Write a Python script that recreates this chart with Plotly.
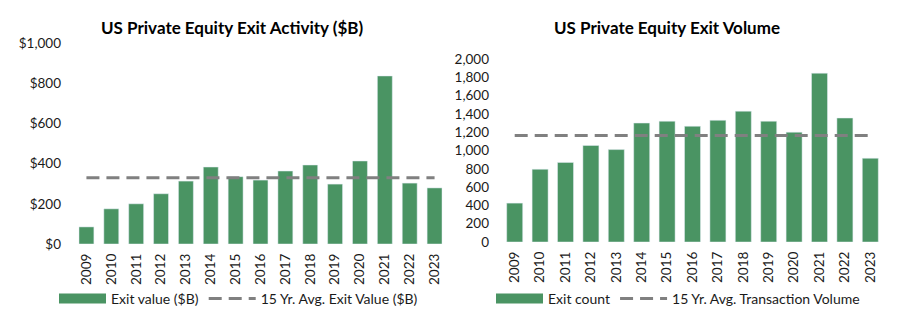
import plotly.graph_objects as go

years = [str(y) for y in range(2009, 2024)]
exit_value = [85, 175, 200, 250, 313, 383, 335, 318, 363, 393, 298, 413, 836, 303, 279]
avg_value = 330
exit_count = [425, 795, 870, 1055, 1010, 1300, 1320, 1265, 1330, 1430, 1320, 1200, 1845, 1355, 915]
avg_count = 1163

left_title = "US Private Equity Exit Activity ($B)"
right_title = "US Private Equity Exit Volume"

GREEN = "#4A9463"
GREY = "#808080"
TXT = "#1a1a1a"
FONT = "Lato"
DASH = "13px,7px"

fig = go.Figure()

# Left chart
fig.add_trace(go.Bar(x=years, y=exit_value, marker_color=GREEN, showlegend=False,
                     xaxis="x", yaxis="y", width=0.6))
fig.add_trace(go.Scatter(x=years, y=[avg_value] * len(years), mode="lines",
                         line=dict(color=GREY, width=3, dash=DASH),
                         showlegend=False, xaxis="x", yaxis="y"))
fig.add_trace(go.Scatter(x=[None], y=[None], mode="lines", name="Exit value ($B)",
                         line=dict(color=GREEN, width=10), legend="legend", xaxis="x", yaxis="y"))
fig.add_trace(go.Scatter(x=[None], y=[None], mode="lines", name="15 Yr. Avg. Exit Value ($B)",
                         line=dict(color=GREY, width=3, dash=DASH), legend="legend",
                         xaxis="x", yaxis="y"))

# Right chart
fig.add_trace(go.Bar(x=years, y=exit_count, marker_color=GREEN, showlegend=False,
                     xaxis="x2", yaxis="y2", width=0.63))
fig.add_trace(go.Scatter(x=years, y=[avg_count] * len(years), mode="lines",
                         line=dict(color=GREY, width=3, dash=DASH),
                         showlegend=False, xaxis="x2", yaxis="y2"))
fig.add_trace(go.Scatter(x=[None], y=[None], mode="lines", name="Exit count",
                         line=dict(color=GREEN, width=10), legend="legend2", xaxis="x2", yaxis="y2"))
fig.add_trace(go.Scatter(x=[None], y=[None], mode="lines", name="15 Yr. Avg. Transaction Volume",
                         line=dict(color=GREY, width=3, dash=DASH), legend="legend2",
                         xaxis="x2", yaxis="y2"))

W, H = 915, 334
tickfont = dict(family=FONT, size=13.5, color=TXT)
legfont = dict(family=FONT, size=14, color=TXT)

fig.update_layout(
    width=W, height=H, margin=dict(l=0, r=0, t=0, b=0, autoexpand=False),
    paper_bgcolor="white", plot_bgcolor="white",
    font=dict(family=FONT, size=13, color=TXT),
    xaxis=dict(domain=[74 / W, 447 / W], anchor="y", tickangle=-90, tickfont=tickfont,
               showgrid=False, showline=False, ticks="", ticklabelstandoff=6,
               automargin=False),
    yaxis=dict(domain=[90 / H, 291 / H], anchor="x", range=[0, 1000], dtick=200,
               tickprefix="$", tickformat=",d", tickfont=tickfont, showgrid=False,
               zeroline=False, ticks="", ticklabelstandoff=12, automargin=False),
    xaxis2=dict(domain=[502 / W, 883 / W], anchor="y2", tickangle=-90, tickfont=tickfont,
                showgrid=False, showline=False, ticks="", ticklabelstandoff=6,
                automargin=False),
    yaxis2=dict(domain=[92 / H, 275 / H], anchor="x2", range=[0, 2000], dtick=200,
                tickformat=",d", tickfont=tickfont, showgrid=False, zeroline=False,
                ticks="", ticklabelstandoff=12, automargin=False),
    legend=dict(orientation="h", x=54 / W, y=(H - 299) / H, xanchor="left", yanchor="middle",
                font=legfont, bgcolor="rgba(0,0,0,0)", itemwidth=47),
    legend2=dict(orientation="h", x=491 / W, y=(H - 299) / H, xanchor="left", yanchor="middle",
                 font=legfont, bgcolor="rgba(0,0,0,0)", itemwidth=47),
    annotations=[
        dict(text="<b>" + left_title + "</b>", x=232 / W, y=(H - 27) / H, xref="paper", yref="paper",
             showarrow=False, xanchor="center", yanchor="middle",
             font=dict(family=FONT, size=17, color="black")),
        dict(text="<b>" + right_title + "</b>", x=667 / W, y=(H - 27) / H, xref="paper", yref="paper",
             showarrow=False, xanchor="center", yanchor="middle",
             font=dict(family=FONT, size=17, color="black")),
    ],
)

fig.write_html("out.html")
